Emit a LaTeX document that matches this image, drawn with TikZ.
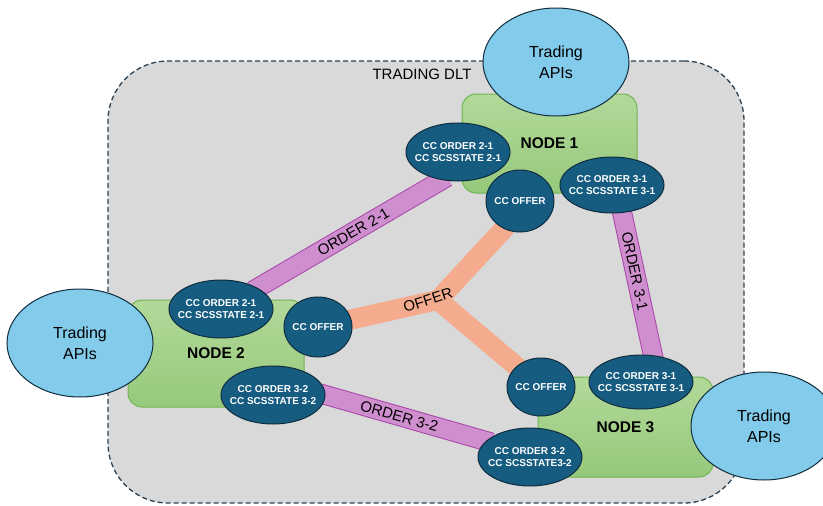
\documentclass[tikz,border=0pt]{standalone}
\usepackage{fontspec}
\setmainfont{Liberation Sans}
\usepackage{tikz}
\usetikzlibrary{calc}
\usetikzlibrary{shapes,backgrounds,positioning}
\definecolor{dltgrey}{RGB}{217,217,217}
\definecolor{dltline}{RGB}{45,65,80}
\definecolor{greentop}{RGB}{178,217,153}
\definecolor{greenbot}{RGB}{150,201,124}
\definecolor{greenline}{RGB}{112,180,80}
\definecolor{ccblue}{RGB}{22,92,128}
\definecolor{ccline}{RGB}{15,45,62}
\definecolor{apiblue}{RGB}{131,203,235}
\definecolor{orderpink}{RGB}{207,143,207}
\definecolor{orderline}{RGB}{170,70,170}
\definecolor{offerorange}{RGB}{245,172,142}
\pgfdeclarelayer{back}
\pgfdeclarelayer{mid}
\pgfsetlayers{back,mid,main}

\tikzset{
  dltbox/.style={rectangle, rounded corners=60pt, fill=dltgrey, draw=dltline,
    line width=1.3pt, dash pattern=on 5pt off 3pt, inner sep=0pt},
  nodebox/.style={rectangle, rounded corners=14pt, top color=greentop, bottom color=greenbot,
    draw=greenline, line width=1pt, font=\bfseries\fontsize{15.5}{18}\selectfont},
  cc/.style={ellipse, fill=ccblue, draw=ccline, line width=1pt, inner sep=0pt,
    minimum width=104pt, minimum height=58pt},
  ccoff/.style={cc, minimum width=68pt, minimum height=60pt},
  cctext/.style={text=white, align=center, inner sep=0pt,
    font=\bfseries\fontsize{10}{12.5}\selectfont},
  api/.style={ellipse, fill=apiblue, draw=ccline, line width=1pt, align=center,
    inner sep=0pt, minimum width=146pt, minimum height=108pt,
    font=\fontsize{16}{21}\selectfont},
  orderband/.style={line width=1pt, draw=orderline, double=orderpink, double distance=18pt,
    shorten <=-6pt, shorten >=-6pt},
  offerband/.style={line width=20pt, draw=offerorange, line join=round},
  bandlabel/.style={font=\fontsize{15}{18}\selectfont, sloped, inner sep=0pt}
}

\begin{document}
\begin{tikzpicture}[x=1pt,y=-1pt]
  \useasboundingbox (0,0) rectangle (823,506);

  \begin{pgfonlayer}{back}
    \node[dltbox, minimum width=636pt, minimum height=442pt] (DLT) at (426,282) {};
    \node[nodebox, minimum width=175pt, minimum height=99pt] (N1) at (549.5,143.5) {NODE 1};
    \node[nodebox, minimum width=176pt, minimum height=107pt] (N2) at (216,353.5) {NODE 2};
    \node[nodebox, minimum width=175pt, minimum height=100pt] (N3) at (625.5,427) {NODE 3};
  \end{pgfonlayer}
  \node[font=\fontsize{15}{18}\selectfont] (DLTlbl) at (422,74) {TRADING DLT};

  \node[cc, label={[cctext]center:CC ORDER 2-1\\CC SCSSTATE 2-1}] (N1a) at (458,152) {};
  \node[ccoff, minimum height=62pt, label={[cctext]center:CC OFFER}] (N1off) at (520,201) {};
  \node[cc, minimum height=56pt, label={[cctext]center:CC ORDER 3-1\\CC SCSSTATE 3-1}] (N1b) at (612,185) {};

  \node[cc, label={[cctext]center:CC ORDER 2-1\\CC SCSSTATE 2-1}] (N2a) at (221,309) {};
  \node[ccoff, label={[cctext]center:CC OFFER}] (N2off) at (318,327) {};
  \node[cc, label={[cctext]center:CC ORDER 3-2\\CC SCSSTATE 3-2}] (N2c) at (273,395) {};

  \node[ccoff, minimum height=58pt, label={[cctext]center:CC OFFER}] (N3off) at (541,387) {};
  \node[cc, minimum height=54pt, label={[cctext]center:CC ORDER 3-1\\CC SCSSTATE 3-1}] (N3b) at (641,382) {};
  \node[cc, label={[cctext]center:CC ORDER 3-2\\CC SCSSTATE3-2}] (N3c) at (530,457) {};

  \node[api] (API1) at (556,62) {Trading\\APIs};
  \node[api] (API2) at (80,343) {Trading\\APIs};
  \node[api] (API3) at (764,426) {Trading\\APIs};

  \coordinate (J) at (438,300);
  \begin{pgfonlayer}{mid}
    \draw[orderband] (N2a.30) -- node[bandlabel, pos=0.52] (O21) {ORDER 2-1} (N1a.-120);
    \draw[orderband] (N1b.-70) -- node[bandlabel, pos=0.41] (O31) {ORDER 3-1} (N3b.66);
    \draw[orderband] (N2c.0) -- node[bandlabel, pos=0.46] (O32) {ORDER 3-2} (N3c.160);
    \draw[offerband] (N2off.center) -- (J) -- (N1off.-120) -- (N1off.center);
    \draw[offerband] (J) -- (N3off.140) -- (N3off.center);
  \end{pgfonlayer}
  \node[bandlabel, rotate=18] (offerlbl) at ($(J)+(-10,0)$) {OFFER};
\end{tikzpicture}
\end{document}
